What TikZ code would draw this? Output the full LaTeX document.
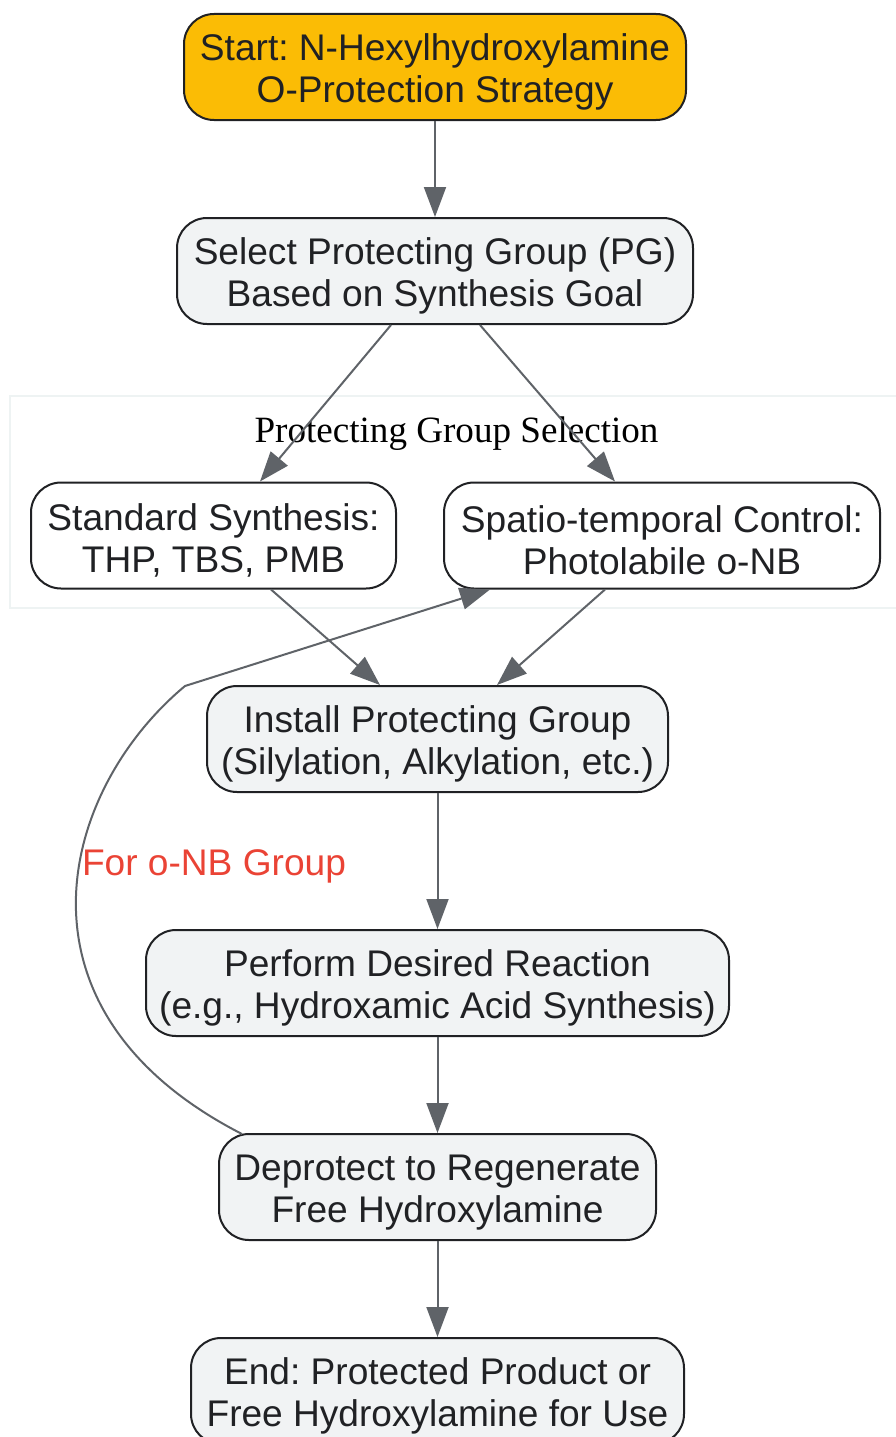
\documentclass[tikz,border=0pt]{standalone}
\usepackage{fontspec}
\setmainfont{Liberation Sans}
\newfontfamily\clusterfont{Liberation Serif}
\usetikzlibrary{arrows.meta}
\definecolor{txt}{HTML}{202124}
\definecolor{edgec}{HTML}{5F6368}
\definecolor{startc}{HTML}{FBBC05}
\definecolor{grayfill}{HTML}{F1F3F4}
\definecolor{redlab}{HTML}{EA4335}
\definecolor{clusterline}{HTML}{EEF3F3}
\newcommand{\topstrut}{\rule{0pt}{37pt}}
\frenchspacing
\begin{document}
\begin{tikzpicture}[x=1pt,y=-1pt,
  box/.style={draw=txt, line width=2pt, rounded corners=30pt, fill=grayfill,
    minimum height=106pt, inner sep=0pt, align=center, text=txt,
    font=\fontsize{37.1}{42}\selectfont\frenchspacing},
  conn/.style={draw=edgec, line width=2pt, -{Triangle[length=30pt,width=22pt]}}
]
\useasboundingbox (0,0) rectangle (895,1437);
% cluster
\draw[draw=clusterline, line width=2pt, fill=white] (10,396) rectangle (910,608);
\node[font=\clusterfont\fontsize{37.1}{42}\selectfont, text=black] (clab) at (456.5,434) {Protecting Group Selection};

\node[box, fill=startc, minimum width=502pt] (start) at (435,67) {\topstrut Start: N-Hexylhydroxylamine\\O-Protection Strategy};
\node[box, minimum width=516pt] (sel) at (435,271) {\topstrut Select Protecting Group (PG)\\Based on Synthesis Goal};
\node[box, fill=white, minimum width=365pt] (std) at (213.5,535.5) {\topstrut Standard Synthesis:\\THP, TBS, PMB};
\node[box, fill=white, minimum width=436pt] (spa) at (662,535.5) {\topstrut Spatio-temporal Control:\\Photolabile o-NB};
\node[box, minimum width=461pt] (inst) at (437.5,739) {\topstrut Install Protecting Group\\(Silylation, Alkylation, etc.)};
\node[box, minimum width=583pt] (perf) at (437.5,983) {\topstrut Perform Desired Reaction\\(e.g., Hydroxamic Acid Synthesis)};
\node[box, minimum width=437pt] (dep) at (437.5,1187) {\topstrut Deprotect to Regenerate\\Free Hydroxylamine};
\node[box, minimum width=493pt] (end) at (437.5,1391) {\topstrut End: Protected Product or\\Free Hydroxylamine for Use};

\draw[conn] (start.south) -- (sel.north);
\draw[conn] ([xshift=-44pt]sel.south) -- ([xshift=46.5pt]std.north);
\draw[conn] ([xshift=45pt]sel.south) -- ([xshift=-47pt]spa.north);
\draw[conn] ([xshift=57.5pt]std.south) -- ([xshift=-57.5pt]inst.north);
\draw[conn] ([xshift=-57pt]spa.south) -- ([xshift=59.5pt]inst.north);
\draw[conn] (inst.south) -- (perf.north);
\draw[conn] (perf.south) -- (dep.north);
\draw[conn] (dep.south) -- (end.north);

\coordinate (bend) at (185,686);
\draw[conn] ([xshift=24pt,yshift=-1pt]dep.north west) .. controls (0,1010) and (60,790) .. (bend) -- ([xshift=-172pt]spa.south);
\node[text=redlab, font=\fontsize{37.1}{42}\selectfont] (lab) at (214,866) {For o-NB Group};
\end{tikzpicture}
\end{document}
